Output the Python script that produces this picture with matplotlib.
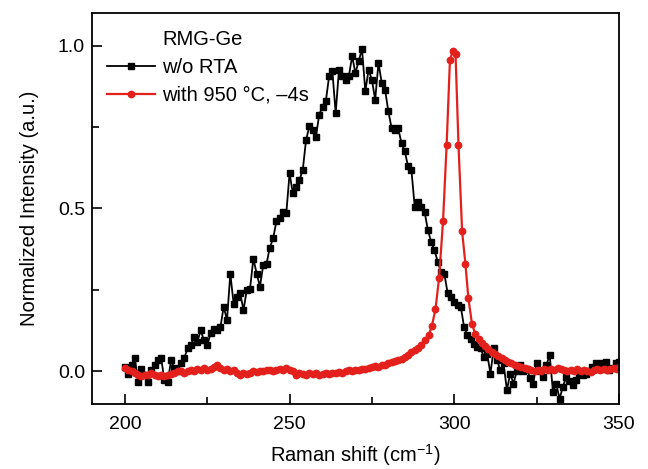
import numpy as np
import matplotlib
matplotlib.use('Agg')
import matplotlib.pyplot as plt

plt.rcParams['font.family'] = ['Liberation Sans', 'DejaVu Sans']
plt.rcParams['mathtext.default'] = 'regular'

# ---- DATA ----
shift_black = list(range(200, 351))
int_black = [
    0.013, -0.007, 0.02, 0.04, -0.033, 0.008, -0.01, -0.033, 0.003, 0.02,      # 200-209
    0.034, 0.04, -0.028, -0.033, 0.034, 0.009, 0.0, 0.024, 0.04, 0.07,         # 210-219
    0.08, 0.105, 0.09, 0.126, 0.095, 0.08, 0.116, 0.13, 0.126, 0.136,          # 220-229
    0.198, 0.157, 0.30, 0.208, 0.229, 0.24, 0.188, 0.249, 0.254, 0.346,        # 230-239
    0.30, 0.26, 0.326, 0.33, 0.38, 0.408, 0.46, 0.47, 0.49, 0.485,             # 240-249
    0.608, 0.546, 0.567, 0.588, 0.618, 0.71, 0.752, 0.74, 0.72, 0.788,         # 250-259
    0.813, 0.829, 0.906, 0.921, 0.793, 0.926, 0.906, 0.895, 0.906, 0.968,      # 260-269
    0.916, 0.953, 0.99, 0.86, 0.926, 0.895, 0.834, 0.947, 0.885, 0.865,        # 270-279
    0.798, 0.746, 0.74, 0.746, 0.70, 0.675, 0.629, 0.618, 0.506, 0.52,         # 280-289
    0.506, 0.49, 0.434, 0.398, 0.372, 0.336, 0.306, 0.30, 0.24, 0.229,         # 290-299
    0.213, 0.203, 0.198, 0.136, 0.111, 0.10, 0.085, 0.075, 0.07, 0.044,        # 300-309
    0.054, -0.007, 0.07, 0.034, 0.003, 0.024, -0.058, -0.007, -0.038, 0.0,     # 310-319
    0.018, 0.0, 0.008, -0.02, -0.038, 0.024, 0.0, -0.017, 0.02, 0.049,         # 320-329
    -0.064, -0.04, -0.084, -0.048, -0.017, -0.03, -0.043, -0.028, -0.007, -0.01,  # 330-339
    -0.007, 0.0, 0.013, 0.024, 0.018, 0.024, 0.029, 0.003, 0.01, 0.024,       # 340-349
    0.029,                                                                      # 350
]

shift_red = list(range(200, 291)) + [
    291.1, 292.2, 293.2, 294.3, 295.4, 296.6, 297.7, 298.7, 299.6, 300.4,
    301.3, 302.4, 303.4, 304.3, 305.4, 306.4, 307.4, 308.4, 309.4, 310.4,
    311.4, 312.4, 313.4, 314.4, 315.4, 316.4, 317.4, 318.4, 319.4, 320.4,
    321.4, 322.4, 323.4, 324.4, 325.4, 326.4, 327.4, 328.4, 329.4, 330.4,
    331.4, 332.4, 333.4, 334.4, 335.4, 336.4, 337.4, 338.4, 339.4, 340.4,
    341.4, 342.4, 343.4, 344.4, 345.4, 346.4, 347.4, 348.4, 349.4, 350.0,
]
int_red = [
    0.01, 0.005, 0.0, -0.005, -0.01, -0.015, -0.012, -0.01, -0.005, -0.01,     # 200-209
    -0.015, -0.012, -0.015, -0.01, -0.008, -0.005, 0.0, 0.0, -0.005, 0.0,      # 210-219
    0.005, 0.0, 0.008, 0.005, 0.01, 0.005, 0.008, 0.012, 0.02, 0.01,          # 220-229
    0.005, 0.008, 0.0, 0.005, -0.005, -0.012, -0.005, -0.008, -0.005, 0.0,     # 230-239
    -0.003, 0.002, 0.0, 0.003, 0.005, 0.0, 0.005, 0.008, 0.003, 0.01,          # 240-249
    0.005, 0.0, -0.01, -0.005, -0.008, -0.01, -0.005, -0.008, -0.006, -0.01,   # 250-259
    -0.008, -0.005, -0.008, -0.004, -0.005, -0.002, -0.004, 0.0, 0.003, 0.002, # 260-269
    0.005, 0.004, 0.008, 0.006, 0.01, 0.012, 0.015, 0.013, 0.018, 0.02,        # 270-279
    0.024, 0.028, 0.03, 0.034, 0.038, 0.045, 0.05, 0.058, 0.064, 0.072,        # 280-289
    0.082,                                                                      # 290
    0.095, 0.11, 0.138, 0.19, 0.285, 0.46, 0.695, 0.955, 0.985, 0.975,
    0.695, 0.43, 0.33, 0.225, 0.145, 0.115, 0.10, 0.088, 0.078, 0.068,
    0.06, 0.052, 0.046, 0.04, 0.034, 0.028, 0.025, 0.02, 0.016, 0.014,
    0.01, 0.008, 0.003, 0.0, 0.004, 0.002, 0.006, 0.003, 0.008, 0.004,
    0.01, 0.006, 0.003, 0.0, 0.004, 0.002, 0.006, 0.0, 0.004, 0.002,
    -0.002, 0.003, 0.006, 0.004, 0.008, 0.003, 0.006, 0.01, 0.008, 0.012,
]

LEGEND_TITLE = 'RMG-Ge'
LABEL_BLACK = 'w/o RTA'
LABEL_RED = 'with 950 °C, –4s'

# ---- PLOT ----
fig = plt.figure(figsize=(6.48, 4.69), dpi=100)
ax = fig.add_axes([0.142, 0.139, 0.813, 0.833])

ax.plot([], [], ' ', label=LEGEND_TITLE)
ax.plot(shift_black, int_black, '-s', color='black', lw=1.3, ms=4.6,
        label=LABEL_BLACK)
ax.plot(shift_red, int_red, '-o', color='#e3201b', lw=1.6, ms=4.6,
        label=LABEL_RED)

ax.set_xlim(190, 350)
ax.set_ylim(-0.1, 1.1)
ax.set_xticks([200, 250, 300, 350])
ax.set_xticks([225, 275, 325], minor=True)
ax.set_yticks([0.0, 0.5, 1.0])
ax.set_yticks([0.25, 0.75], minor=True)
ax.tick_params(which='both', direction='in', labelsize=14, width=1.2)
ax.tick_params(which='major', length=7)
ax.tick_params(which='minor', length=5)
ax.tick_params(axis='x', pad=9)
ax.tick_params(axis='y', pad=5)
for sp in ax.spines.values():
    sp.set_linewidth(1.3)

ax.set_xlabel('Raman shift (cm$^{-1}$)', fontsize=14.5, labelpad=6)
ax.set_ylabel('Normalized Intensity (a.u.)', fontsize=14.5, labelpad=14)

ax.legend(loc='upper left', bbox_to_anchor=(0.028, 0.958), frameon=False,
          fontsize=14.5, numpoints=1, handlelength=2.4, handletextpad=0.35,
          labelspacing=0.45, borderpad=0, borderaxespad=0)

plt.savefig('out.png', dpi=100)
